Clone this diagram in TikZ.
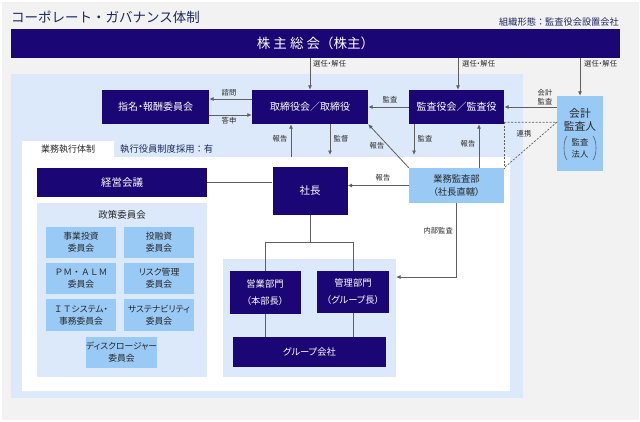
\documentclass[tikz,border=0pt]{standalone}
\usepackage{fontspec}
\setmainfont{Noto Sans CJK JP}[RawFeature={+palt}]
\newfontfamily\jpfull{Noto Sans CJK JP}
\usetikzlibrary{arrows.meta,calc}
\definecolor{navy}{RGB}{26,6,117}
\definecolor{lblue}{RGB}{153,201,245}
\definecolor{pblue}{RGB}{219,233,250}
\definecolor{bgray}{RGB}{242,242,242}
\definecolor{ttl}{RGB}{30,40,95}
\definecolor{lgray}{RGB}{95,95,95}
\definecolor{txt}{RGB}{40,40,40}
\newcommand\fsz[2]{\fontsize{#1}{#2}\selectfont}
\tikzset{
  nbox/.style={fill=navy, text=white, inner sep=0pt, align=center, font=\fsz{10}{12}},
  lbox/.style={fill=lblue, text=txt, inner sep=0pt, align=center, font=\fsz{8.8}{12}},
  lbl/.style={text=txt, inner sep=0pt, align=center, font=\fsz{7.3}{10}},
  arr/.style={draw=lgray, line width=0.8pt, -{Latex[length=4.5pt,width=4pt]}},
  pline/.style={draw=lgray, line width=0.8pt},
  dline/.style={draw=lgray, line width=0.7pt, dash pattern=on 2pt off 1.5pt},
}
\begin{document}
\begin{tikzpicture}[x=1pt,y=-1pt]
\useasboundingbox (0,0) rectangle (640,421);
% background
\fill[white] (0,0) rectangle (640,421);
\fill[bgray] (1.5,2) rectangle (638.5,419.5);
% title
\node[anchor=west, text=ttl, inner sep=0pt, font=\jpfull\fsz{13.5}{15}] (title) at (11,17) {コーポレート・ガバナンス体制};
\node[anchor=east, text=ttl, inner sep=0pt, font=\jpfull\fsz{9.2}{11}] (form) at (619,22) {組織形態：監査役会設置会社};
% shareholders
\node[nbox, minimum width=609, minimum height=29, font=\jpfull\fsz{13.5}{15}] (sh) at (315.5,43.5) {株 主 総 会（株主）};
% big light blue panel
\fill[pblue] (11,74) rectangle (523,398);
% white execution area
\fill[white] (22,141) -- (114,141) -- (114,157) -- (510,157) -- (510,391) -- (22,391) -- cycle;
\node[text=txt, inner sep=0pt, font=\fsz{9}{11}] (tab) at (68,149) {業務執行体制};
\node[anchor=west, text=ttl, inner sep=0pt, font=\jpfull\fsz{9.3}{11}] (exo) at (120,149) {執行役員制度採用：有};
% policy committee panel
\node[fill=pblue, minimum width=170, minimum height=174, inner sep=0pt] (pol) at (122,290) {};
\node[text=txt, inner sep=0pt, font=\fsz{9.5}{11}] (polt) at (122,215) {政策委員会};
% lower right panel
\node[fill=pblue, minimum width=173, minimum height=118, inner sep=0pt] (lp) at (309.5,318) {};
% top row boxes
\node[nbox, minimum width=107, minimum height=34] (ncom) at (155.5,107) {指名・報酬委員会};
\node[nbox, minimum width=116, minimum height=34] (bod) at (310,107) {取締役会／取締役};
\node[nbox, minimum width=95, minimum height=34] (kan) at (456.5,107) {監査役会／監査役};
\node[lbox, minimum width=46, minimum height=75] (acc) at (580,133.5) {};
\node[text=txt, inner sep=0pt, align=center, font=\fsz{10.8}{13}] (acct) at (580,120) {会計\\監査人};
\node[text=txt, inner sep=0pt, align=center, font=\fsz{8.3}{12}] (accs) at (580,148) {監査\\法人};
\draw[draw=lgray, line width=0.6pt] (567,136) .. controls (563,141) and (563,155) .. (567,160);
\draw[draw=lgray, line width=0.6pt] (593,136) .. controls (597,141) and (597,155) .. (593,160);
% execution boxes
\node[nbox, minimum width=170, minimum height=29, font=\fsz{10.5}{12}] (keiei) at (122,182.5) {経営会議};
\node[nbox, minimum width=75, minimum height=48, font=\fsz{10.5}{12}] (pres) at (310,191) {社長};
\node[lbox, minimum width=95, minimum height=35, font=\fsz{9.3}{12.5}] (audit) at (456.5,185.5) {業務監査部\\（社長直轄）};
% committees
\node[lbox, minimum width=70, minimum height=31] (c1) at (81,242.5) {事業投資\\委員会};
\node[lbox, minimum width=70, minimum height=31] (c2) at (159,242.5) {投融資\\委員会};
\node[lbox, minimum width=70, minimum height=31] (c3) at (81,278.5) {{\jpfull ＰＭ・ＡＬＭ}\\委員会};
\node[lbox, minimum width=70, minimum height=31] (c4) at (159,278.5) {リスク管理\\委員会};
\node[lbox, minimum width=70, minimum height=32] (c5) at (81,315) {{\jpfull ＩＴ}システム・\\事務委員会};
\node[lbox, minimum width=70, minimum height=32] (c6) at (159,315) {サステナビリティ\\委員会};
\node[lbox, minimum width=71, minimum height=31] (c7) at (121.5,352.5) {ディスクロージャー\\委員会};
% divisions
\node[nbox, minimum width=71, minimum height=43, font=\fsz{9.3}{17}] (sales) at (265,292.5) {営業部門\\（本部長）};
\node[nbox, minimum width=72, minimum height=42, font=\fsz{9.3}{17}] (admin) at (353,292) {管理部門\\（グループ長）};
\node[nbox, minimum width=153, minimum height=30, font=\fsz{9.3}{12}] (group) at (309.5,352) {グループ会社};
% coordinates for free ends
\coordinate (kanA) at (414,155);
\coordinate (bodA) at (330,155);
\coordinate (bodB) at (291,157);
\coordinate (ia) at (396,277);
\coordinate (kanR) at (479,0);
% connectors from shareholders
\draw[arr] (sh.south -| bod) -- (bod.north);
\draw[arr] (sh.south -| 458,0) -- (bod.north -| 458,0);
\draw[arr] (sh.south -| acc) -- (acc.north);
\node[lbl, anchor=west] (l1) at (313,64) {選任・解任};
\node[lbl, anchor=west] (l2) at (462,64) {選任・解任};
\node[lbl, anchor=west] (l3) at (584,64) {選任・解任};
% board <-> nomination
\draw[arr] ($(bod.west)+(0,-8)$) -- ($(ncom.east)+(0,-8)$);
\draw[arr] ($(ncom.east)+(0,8)$) -- ($(bod.west)+(0,8)$);
\node[lbl] (l4) at (229,93) {諮問};
\node[lbl] (l5) at (229,121) {答申};
% audit board -> board
\draw[arr] (kan.west) -- (bod.east);
\node[lbl] (l6) at (390,100) {監査};
% accounting auditor -> audit board
\draw[arr] (acc.west |- kan) -- (kan.east);
\node[lbl, font=\fsz{7.3}{9.5}] (l7) at (545,97) {会計\\監査};
% cooperation dashed
\coordinate (kse) at ($(kan.south east)+(0,-2)$);
\draw[dline] (kse) -- (kse -| acc.west) -- (audit.north east);
\draw[dline] (kse) -- (audit.north east);
\node[lbl] (l8) at (524,134) {連携};
% vertical arrows between board layer and execution
\draw[arr] (bodB) -- (bodB |- bod.south);
\node[lbl] (l9) at (280,139) {報告};
\draw[arr] (bod.south -| bodA) -- (bodA);
\node[lbl] (l10) at (341,139) {監督};
\draw[arr] (kan.south -| kanA) -- (kanA);
\node[lbl] (l11) at (425,139) {監査};
\draw[arr] (audit.north -| kanR) -- (kan.south -| kanR);
\node[lbl] (l12) at (468,144) {報告};
\draw[arr] (audit.north west) -- (bod.south east);
\node[lbl] (l13) at (377,146) {報告};
% audit dept -> president
\draw[arr] (audit.west) -- (audit.west -| pres.east);
\node[lbl] (l14) at (383,178) {報告};
% president - management council
\draw[pline] (pres.west |- keiei) -- (keiei.east);
% president -> divisions
\draw[pline] (pres.south) -- ++(0,27) -| (sales.north);
\draw[pline] (pres.south) -- ++(0,27) -| (admin.north);
\draw[pline] (sales.south) -- (sales.south |- group.north);
\draw[pline] (admin.south) -- (admin.south |- group.north);
% internal audit
\draw[arr] (audit.south) |- (ia);
\node[lbl, anchor=east] (l15) at (453,231) {内部監査};
\end{tikzpicture}
\end{document}
